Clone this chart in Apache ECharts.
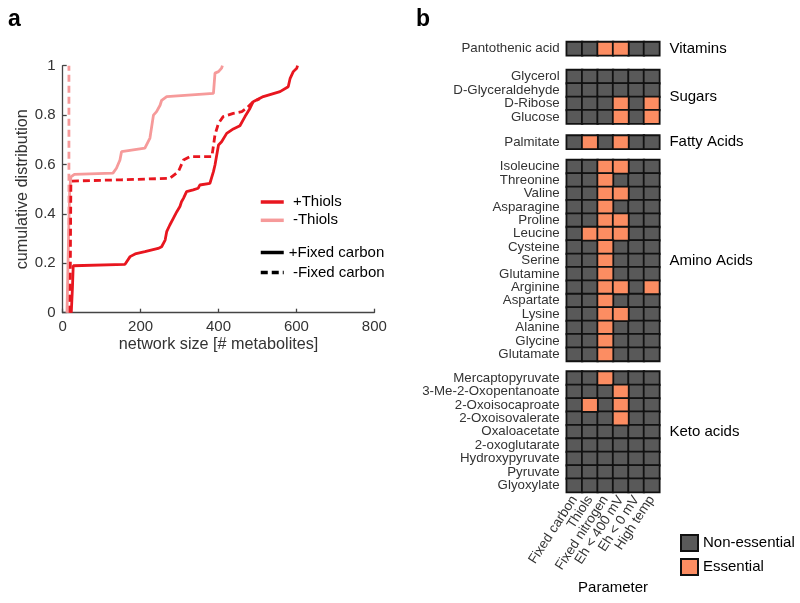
<!DOCTYPE html>
<html><head><meta charset="utf-8">
<script src="https://cdn.jsdelivr.net/npm/echarts@6/dist/echarts.min.js"></script>
<style>html,body{margin:0;padding:0;background:#fff}#c{width:800px;height:603px}</style>
</head><body><div id="c"></div>
<script>
// ---------- Panel a: cumulative distributions [network size, fraction] ----------
const thiolsFixedC = [[22,0],[25,0.1],[27,0.19],[31,0.193],[160,0.196],[173,0.227],[186,0.238],[211,0.247],[245,0.26],[254,0.267],[263,0.294],[267,0.328],[275,0.355],[284,0.382],[293,0.409],[301,0.43],[305,0.449],[310,0.463],[318,0.49],[335,0.497],[348,0.504],[352,0.517],[378,0.524],[387,0.571],[391,0.598],[400,0.679],[408,0.692],[421,0.726],[438,0.744],[455,0.757],[468,0.794],[481,0.828],[489,0.854],[515,0.875],[558,0.895],[579,0.915],[584,0.949],[592,0.976],[601,0.99],[603,1.0]];
const thiolsNoFixedC = [[19,0],[20,0.3],[21,0.52],[23,0.533],[150,0.538],[275,0.544],[297,0.571],[310,0.618],[327,0.632],[383,0.632],[391,0.72],[400,0.767],[412,0.794],[438,0.807],[460,0.814],[472,0.828],[489,0.854],[506,0.866]];
const noThiolsFixedC = [[11,0],[15,0.3],[18,0.5],[21,0.55],[30,0.56],[129,0.565],[138,0.585],[147,0.618],[151,0.652],[211,0.666],[224,0.707],[233,0.8],[241,0.814],[250,0.84],[254,0.86],[267,0.875],[387,0.888],[391,0.97],[400,0.976],[408,0.99],[410,1.0]];
const noThiolsNoFixedC = [[16,0],[16,1.0]];
const xTicks = [0, 800, 200];   // min, max, interval
const yTicks = [0, 1, 0.2];

// ---------- Panel b: essentiality grid ----------
const params = ['Fixed carbon','Thiols','Fixed nitrogen','Eh < 400 mV','Eh < 0 mV','High temp'];
const groupNames = ['Vitamins','Sugars','Fatty Acids','Amino Acids','Keto acids'];
const vitaminRows = ['Pantothenic acid'];
const vitaminVals = [[0,0,1,1,0,0]];
const sugarRows = ['Glycerol','D-Glyceraldehyde','D-Ribose','Glucose'];
const sugarVals = [[0,0,0,0,0,0],[0,0,0,0,0,0],[0,0,0,1,0,1],[0,0,0,1,0,1]];
const fattyRows = ['Palmitate'];
const fattyVals = [[0,1,0,1,0,0]];
const aminoRows = ['Isoleucine','Threonine','Valine','Asparagine','Proline','Leucine','Cysteine','Serine','Glutamine','Arginine','Aspartate','Lysine','Alanine','Glycine','Glutamate'];
const aminoVals = [[0,0,1,1,0,0],[0,0,1,0,0,0],[0,0,1,1,0,0],[0,0,1,0,0,0],[0,0,1,1,0,0],[0,1,1,1,0,0],[0,0,1,0,0,0],[0,0,1,0,0,0],[0,0,1,0,0,0],[0,0,1,1,0,1],[0,0,1,0,0,0],[0,0,1,1,0,0],[0,0,1,0,0,0],[0,0,1,0,0,0],[0,0,1,0,0,0]];
const ketoRows = ['Mercaptopyruvate','3-Me-2-Oxopentanoate','2-Oxoisocaproate','2-Oxoisovalerate','Oxaloacetate','2-oxoglutarate','Hydroxypyruvate','Pyruvate','Glyoxylate'];
const ketoVals = [[0,0,1,0,0,0],[0,0,0,1,0,0],[0,1,0,1,0,0],[0,0,0,1,0,0],[0,0,0,0,0,0],[0,0,0,0,0,0],[0,0,0,0,0,0],[0,0,0,0,0,0],[0,0,0,0,0,0]];
const stateNames = ['Non-essential','Essential'];

// ---------- layout / style ----------
const RED = '#E8161F', PINK = '#F69A9A';
const GRAY = '#595959', ORANGE = '#FC8D62';
const DASH = [7, 4];
const LW = 2.8;
const groupRows = [vitaminRows, sugarRows, fattyRows, aminoRows, ketoRows];
const groupVals = [vitaminVals, sugarVals, fattyVals, aminoVals, ketoVals];
const groupTops = [42, 70, 135.5, 160, 371.5];
const ROWH = 13.4;
const font = 'Liberation Sans, Arial, Helvetica, sans-serif';

const grid = [{left: 62.7, width: 311.6, top: 65.7, height: 247}];
const xAxis = [{
  type: 'value', gridIndex: 0, min: xTicks[0], max: xTicks[1], interval: xTicks[2],
  axisLine: {lineStyle: {color: '#444', width: 1.3}},
  axisTick: {inside: true, length: 4, lineStyle: {color: '#444', width: 1.3}},
  axisLabel: {fontSize: 15, color: '#333', margin: 7, fontFamily: font},
  splitLine: {show: false},
  name: 'network size [# metabolites]', nameLocation: 'middle', nameGap: 24,
  nameTextStyle: {fontSize: 16.2, color: '#333', fontFamily: font}
}];
const yAxis = [{
  type: 'value', gridIndex: 0, min: yTicks[0], max: yTicks[1], interval: yTicks[2],
  axisLine: {show: true, lineStyle: {color: '#444', width: 1.3}},
  axisTick: {show: true, inside: true, length: 4, lineStyle: {color: '#444', width: 1.3}},
  axisLabel: {fontSize: 15, color: '#333', margin: 7, fontFamily: font},
  splitLine: {show: false},
  name: 'cumulative distribution', nameLocation: 'middle', nameGap: 32,
  nameTextStyle: {fontSize: 16.2, color: '#333', fontFamily: font}
}];
const series = [
  {name: '-Thiols, +Fixed carbon', type: 'line', data: noThiolsFixedC, symbol: 'none', color: PINK, lineStyle: {width: LW, color: PINK}, z: 2},
  {name: '-Thiols, -Fixed carbon', type: 'line', data: noThiolsNoFixedC, symbol: 'none', color: PINK, lineStyle: {width: LW, color: PINK, type: DASH}, z: 2},
  {name: '+Thiols, -Fixed carbon', type: 'line', data: thiolsNoFixedC, symbol: 'none', color: RED, lineStyle: {width: LW, color: RED, type: DASH}, z: 3},
  {name: '+Thiols, +Fixed carbon', type: 'line', data: thiolsFixedC, symbol: 'none', color: RED, lineStyle: {width: LW, color: RED}, z: 4},
  {name: ' +Thiols', type: 'line', data: [], symbol: 'none', color: RED, lineStyle: {width: 3.5, color: RED}},
  {name: ' -Thiols', type: 'line', data: [], symbol: 'none', color: PINK, lineStyle: {width: 3.5, color: PINK}},
  {name: '+Fixed carbon', type: 'line', data: [], symbol: 'none', color: '#000', lineStyle: {width: 3.5, color: '#000'}},
  {name: ' -Fixed carbon', type: 'line', data: [], symbol: 'none', color: '#000', lineStyle: {width: 3.5, color: '#000', type: DASH}}
];

groupRows.forEach((rows, g) => {
  const gi = g + 1;
  const last = g === groupRows.length - 1;
  grid.push({left: 566.7, width: 92.7, top: groupTops[g], height: rows.length * ROWH});
  xAxis.push({
    type: 'category', gridIndex: gi, data: params, show: last,
    axisLine: {show: false}, axisTick: {show: false}, splitLine: {show: false},
    axisLabel: {show: last, rotate: 57, interval: 0, fontSize: 13.5, color: '#333', margin: 5, fontFamily: font},
    name: last ? 'Parameter' : '', nameLocation: 'middle', nameGap: 88,
    nameTextStyle: {fontSize: 15, color: '#000', fontFamily: font}
  });
  yAxis.push({
    type: 'category', gridIndex: gi, data: rows, inverse: true, position: 'left',
    axisLine: {show: false}, axisTick: {show: false}, splitLine: {show: false},
    axisLabel: {interval: 0, fontSize: 13.3, color: '#333', margin: 7, fontFamily: font, lineHeight: 13}
  });
  yAxis.push({
    type: 'category', gridIndex: gi, data: [groupNames[g]], position: 'right',
    axisLine: {show: false}, axisTick: {show: false}, splitLine: {show: false},
    axisLabel: {fontSize: 15, color: '#000', margin: 10, fontFamily: font}
  });
  [0, 1].forEach(state => {
    const cells = [];
    groupVals[g].forEach((row, r) => row.forEach((v, c) => { if (v === state) cells.push([c, r, v]); }));
    series.push({
      name: stateNames[state], type: 'heatmap', xAxisIndex: gi, yAxisIndex: 1 + 2 * g,
      data: cells, color: state ? ORANGE : GRAY,
      itemStyle: {color: state ? ORANGE : GRAY, borderColor: '#111', borderWidth: 1.8},
      emphasis: {disabled: true}
    });
  });
});

const chart = echarts.init(document.getElementById('c'), null, {renderer: 'canvas'});
chart.setOption({
  backgroundColor: '#fff',
  animation: false,
  textStyle: {fontFamily: font},
  title: [
    {text: 'a', left: 3, top: 3, textStyle: {fontSize: 23, fontWeight: 'bold', color: '#000', fontFamily: font}},
    {text: 'b', left: 411, top: 3, textStyle: {fontSize: 23, fontWeight: 'bold', color: '#000', fontFamily: font}}
  ],
  legend: [
    {data: [' +Thiols', ' -Thiols'], orient: 'vertical', left: 259, top: 194.5, padding: 0,
     itemWidth: 23, itemHeight: 14, itemGap: 3.3, selectedMode: false, itemStyle: {opacity: 0},
     lineStyle: {width: 3.5},
     textStyle: {fontSize: 15, color: '#000', fontFamily: font}},
    {data: ['+Fixed carbon', ' -Fixed carbon'], orient: 'vertical', left: 259, top: 245, padding: 0,
     itemWidth: 23, itemHeight: 14, itemGap: 5, selectedMode: false, itemStyle: {opacity: 0},
     lineStyle: {width: 3.5},
     textStyle: {fontSize: 15, color: '#000', fontFamily: font}},
    {data: stateNames, orient: 'vertical', left: 680, top: 534, padding: 0, icon: 'rect',
     itemWidth: 17, itemHeight: 16, itemGap: 6, selectedMode: false,
     textStyle: {fontSize: 15, color: '#000', fontFamily: font}}
  ],
  grid: grid,
  xAxis: xAxis,
  yAxis: yAxis,
  series: series
});
</script>
</body></html>
